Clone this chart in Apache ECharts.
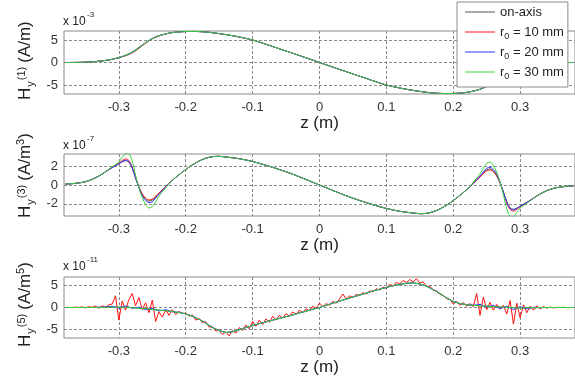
<!DOCTYPE html>
<html>
<head>
<meta charset="utf-8">
<script src="https://cdn.jsdelivr.net/npm/echarts@6/dist/echarts.min.js"></script>
<style>
  html, body { margin: 0; padding: 0; background: #fff; }
  #chart { width: 575px; height: 382px; }
</style>
</head>
<body>
<div id="chart"></div>
<script>
// z positions (m), 10 mm spacing
const zA = [
  -0.38, -0.37, -0.36, -0.35, -0.34, -0.33, -0.32, -0.31, -0.30, -0.29,
  -0.28, -0.27, -0.26, -0.25, -0.24, -0.23, -0.22, -0.21, -0.20, -0.19,
  -0.18, -0.17, -0.16, -0.15, -0.14, -0.13, -0.12, -0.11, -0.10, -0.09,
  -0.08, -0.07, -0.06, -0.05, -0.04, -0.03, -0.02, -0.01, 0, 0.01,
  0.02, 0.03, 0.04, 0.05, 0.06, 0.07, 0.08, 0.09, 0.10, 0.11,
  0.12, 0.13, 0.14, 0.15, 0.16, 0.17, 0.18, 0.19, 0.20, 0.21,
  0.22, 0.23, 0.24, 0.25, 0.26, 0.27, 0.28, 0.29, 0.30, 0.31,
  0.32, 0.33, 0.34, 0.35, 0.36, 0.37, 0.38
];

// H_y^(1), x 1e-3 A/m
const h1Axis = [
  0, 0.01, 0.03, 0.07, 0.15, 0.28, 0.45, 0.72, 1.1, 1.62,
  2.35, 3.35, 4.45, 5.35, 5.97, 6.36, 6.65, 6.8, 6.88, 6.9,
  6.87, 6.78, 6.62, 6.42, 6.2, 5.95, 5.67, 5.35, 5.0, 4.55,
  4.05, 3.55, 3.05, 2.55, 2.05, 1.55, 1.03, 0.52, 0, -0.52,
  -1.03, -1.55, -2.05, -2.55, -3.05, -3.55, -4.05, -4.55, -5.0, -5.35,
  -5.67, -5.95, -6.2, -6.42, -6.62, -6.78, -6.87, -6.9, -6.88, -6.8,
  -6.65, -6.36, -5.97, -5.35, -4.45, -3.35, -2.35, -1.62, -1.1, -0.72,
  -0.45, -0.28, -0.15, -0.07, -0.03, -0.01, 0
];
const h1R10 = [
  0, 0.01, 0.03, 0.07, 0.15, 0.28, 0.45, 0.7, 1.05, 1.5,
  2.15, 3.15, 4.3, 5.25, 5.9, 6.33, 6.64, 6.8, 6.88, 6.9,
  6.87, 6.78, 6.62, 6.42, 6.2, 5.95, 5.67, 5.35, 5.0, 4.55,
  4.05, 3.55, 3.05, 2.55, 2.05, 1.55, 1.03, 0.52, 0, -0.52,
  -1.03, -1.55, -2.05, -2.55, -3.05, -3.55, -4.05, -4.55, -5.0, -5.35,
  -5.67, -5.95, -6.2, -6.42, -6.62, -6.78, -6.87, -6.9, -6.88, -6.8,
  -6.64, -6.33, -5.9, -5.25, -4.3, -3.15, -2.15, -1.5, -1.05, -0.7,
  -0.45, -0.28, -0.15, -0.07, -0.03, -0.01, 0
];
const h1R20 = [
  0, 0.01, 0.03, 0.07, 0.15, 0.28, 0.45, 0.71, 1.08, 1.57,
  2.25, 3.25, 4.38, 5.3, 5.94, 6.35, 6.65, 6.8, 6.88, 6.9,
  6.87, 6.78, 6.62, 6.42, 6.2, 5.95, 5.67, 5.35, 5.0, 4.55,
  4.05, 3.55, 3.05, 2.55, 2.05, 1.55, 1.03, 0.52, 0, -0.52,
  -1.03, -1.55, -2.05, -2.55, -3.05, -3.55, -4.05, -4.55, -5.0, -5.35,
  -5.67, -5.95, -6.2, -6.42, -6.62, -6.78, -6.87, -6.9, -6.88, -6.8,
  -6.65, -6.35, -5.94, -5.3, -4.38, -3.25, -2.25, -1.57, -1.08, -0.71,
  -0.45, -0.28, -0.15, -0.07, -0.03, -0.01, 0
];
const h1R30 = [
  0, 0.01, 0.03, 0.07, 0.15, 0.28, 0.45, 0.72, 1.1, 1.6,
  2.3, 3.3, 4.4, 5.3, 5.95, 6.35, 6.65, 6.8, 6.88, 6.9,
  6.87, 6.78, 6.62, 6.42, 6.2, 5.95, 5.67, 5.35, 5.0, 4.55,
  4.05, 3.55, 3.05, 2.55, 2.05, 1.55, 1.03, 0.52, 0, -0.52,
  -1.03, -1.55, -2.05, -2.55, -3.05, -3.55, -4.05, -4.55, -5.0, -5.35,
  -5.67, -5.95, -6.2, -6.42, -6.62, -6.78, -6.87, -6.9, -6.88, -6.8,
  -6.65, -6.35, -5.95, -5.3, -4.4, -3.3, -2.3, -1.6, -1.1, -0.72,
  -0.45, -0.28, -0.15, -0.07, -0.03, -0.01, 0
];

// z positions for H_y^(3), denser round the end peaks
const z3 = [
  -0.38, -0.37, -0.36, -0.35, -0.34, -0.33, -0.32, -0.31,
  -0.30, -0.295, -0.29, -0.285, -0.28, -0.275, -0.27, -0.265, -0.26, -0.255, -0.25, -0.245, -0.24,
  -0.23, -0.22, -0.21, -0.20, -0.19, -0.18, -0.17, -0.16, -0.15, -0.14,
  -0.12, -0.10, -0.08, -0.06, -0.04, -0.02,
  0,
  0.02, 0.04, 0.06, 0.08, 0.10, 0.12,
  0.14, 0.15, 0.16, 0.17, 0.18, 0.19, 0.20, 0.21, 0.22, 0.23,
  0.24, 0.245, 0.25, 0.255, 0.26, 0.265, 0.27, 0.275, 0.28, 0.285, 0.29, 0.295, 0.30,
  0.31, 0.32, 0.33, 0.34, 0.35, 0.36, 0.37, 0.38
];

// H_y^(3), x 1e-7 A/m^3
const h3Axis = [
  0.1, 0.14, 0.22, 0.35, 0.6, 0.95, 1.4, 1.85,
  2.25, 2.45, 2.58, 2.42, 1.75, 0.75, -0.25, -1.0, -1.5, -1.72, -1.6, -1.3, -0.9,
  -0.2, 0.5, 1.1, 1.65, 2.15, 2.55, 2.85, 3.02, 3.05, 2.98,
  2.8, 2.5, 2.1, 1.65, 1.15, 0.58,
  0,
  -0.58, -1.15, -1.65, -2.1, -2.5, -2.8,
  -2.98, -3.05, -3.02, -2.85, -2.55, -2.15, -1.65, -1.1, -0.5, 0.2,
  0.9, 1.3, 1.6, 1.72, 1.5, 1.0, 0.25, -0.75, -1.75, -2.42, -2.58, -2.45, -2.25,
  -1.85, -1.4, -0.95, -0.6, -0.35, -0.22, -0.14, -0.1
];
const h3R10 = [
  0.1, 0.14, 0.22, 0.35, 0.6, 0.95, 1.4, 1.87,
  2.3, 2.6, 2.78, 2.6, 1.9, 0.8, -0.2, -0.95, -1.4, -1.6, -1.5, -1.2, -0.85,
  -0.2, 0.5, 1.1, 1.65, 2.15, 2.55, 2.85, 3.02, 3.05, 2.98,
  2.8, 2.5, 2.1, 1.65, 1.15, 0.58,
  0,
  -0.58, -1.15, -1.65, -2.1, -2.5, -2.8,
  -2.98, -3.05, -3.02, -2.85, -2.55, -2.15, -1.65, -1.1, -0.5, 0.2,
  0.85, 1.2, 1.5, 1.6, 1.4, 0.95, 0.2, -0.8, -1.9, -2.6, -2.78, -2.6, -2.3,
  -1.87, -1.4, -0.95, -0.6, -0.35, -0.22, -0.14, -0.1
];
const h3R20 = [
  0.1, 0.14, 0.22, 0.35, 0.6, 0.95, 1.4, 1.86,
  2.25, 2.5, 2.65, 2.5, 1.85, 0.75, -0.3, -1.15, -1.65, -1.88, -1.78, -1.4, -0.95,
  -0.2, 0.5, 1.1, 1.65, 2.15, 2.55, 2.85, 3.02, 3.05, 2.98,
  2.8, 2.5, 2.1, 1.65, 1.15, 0.58,
  0,
  -0.58, -1.15, -1.65, -2.1, -2.5, -2.8,
  -2.98, -3.05, -3.02, -2.85, -2.55, -2.15, -1.65, -1.1, -0.5, 0.2,
  0.95, 1.4, 1.78, 1.88, 1.65, 1.15, 0.3, -0.75, -1.85, -2.5, -2.65, -2.5, -2.25,
  -1.86, -1.4, -0.95, -0.6, -0.35, -0.22, -0.14, -0.1
];
const h3R30 = [
  0.1, 0.14, 0.22, 0.35, 0.6, 0.95, 1.42, 1.95,
  2.45, 2.95, 3.35, 3.3, 2.55, 1.05, -0.3, -1.35, -2.05, -2.45, -2.3, -1.8, -1.2,
  -0.3, 0.5, 1.1, 1.65, 2.15, 2.55, 2.85, 3.02, 3.05, 2.98,
  2.8, 2.5, 2.1, 1.65, 1.15, 0.58,
  0,
  -0.58, -1.15, -1.65, -2.1, -2.5, -2.8,
  -2.98, -3.05, -3.02, -2.85, -2.55, -2.15, -1.65, -1.1, -0.5, 0.3,
  1.2, 1.8, 2.3, 2.45, 2.05, 1.35, 0.3, -1.05, -2.55, -3.3, -3.35, -2.95, -2.45,
  -1.95, -1.42, -0.95, -0.6, -0.35, -0.22, -0.14, -0.1
];

// H_y^(5), x 1e-11 A/m^5
const h5Axis = [
  0, 0, 0, 0, 0, 0.02, 0.05, 0.08, 0.1, 0.05,
  0, -0.15, -0.3, -0.45, -0.6, -0.75, -0.95, -1.15, -1.45, -2.0,
  -2.7, -3.6, -4.6, -5.3, -5.75, -5.55, -5.1, -4.6, -4.15, -3.7,
  -3.3, -2.9, -2.5, -2.1, -1.7, -1.25, -0.85, -0.4, 0, 0.5,
  1.0, 1.45, 1.95, 2.4, 2.85, 3.3, 3.8, 4.2, 4.6, 5.0,
  5.3, 5.55, 5.65, 5.4, 4.9, 4.1, 3.2, 2.2, 1.4, 0.9,
  0.65, 0.5, 0.4, 0.3, 0.2, 0.1, 0, -0.05, -0.1, -0.08,
  -0.05, -0.02, 0, 0, 0, 0, 0
];
const h5R20 = [
  0, 0, 0, 0, 0, 0.05, 0.1, 0.3, -0.2, 0.4,
  -0.2, 0.1, -0.5, -0.2, -0.8, -0.5, -0.95, -1.15, -1.45, -2.0,
  -2.7, -3.6, -4.6, -5.3, -5.75, -5.55, -5.1, -4.6, -4.15, -3.7,
  -3.3, -2.9, -2.5, -2.1, -1.7, -1.25, -0.85, -0.4, 0, 0.5,
  1.0, 1.45, 1.95, 2.4, 2.85, 3.3, 3.8, 4.2, 4.6, 5.0,
  5.3, 5.55, 5.65, 5.4, 4.9, 4.1, 3.2, 2.2, 1.4, 0.9,
  0.65, 0.5, 0.7, 0.1, 0.5, -0.3, 0.3, -0.5, 0.2, -0.3,
  0.05, -0.02, 0, 0, 0, 0, 0
];
const h5R30 = [
  0, 0, 0, 0, 0, 0.02, 0.05, 0.1, 0.05, 0.1,
  -0.05, -0.15, -0.3, -0.45, -0.6, -0.75, -0.95, -1.15, -1.45, -2.0,
  -2.7, -3.6, -4.6, -5.3, -5.75, -5.55, -5.1, -4.6, -4.15, -3.7,
  -3.3, -2.9, -2.5, -2.1, -1.7, -1.25, -0.85, -0.4, 0, 0.5,
  1.0, 1.45, 1.95, 2.4, 2.85, 3.3, 3.8, 4.2, 4.6, 5.0,
  5.3, 5.55, 5.65, 5.4, 4.9, 4.1, 3.2, 2.2, 1.4, 0.9,
  0.65, 0.5, 0.4, 0.35, 0.2, 0.1, 0.05, -0.05, -0.1, -0.05,
  -0.05, -0.02, 0, 0, 0, 0, 0
];

// r0 = 10 mm trace is noisy, read at 5 mm steps
const zR = [
  -0.380, -0.375, -0.370, -0.365, -0.360, -0.355, -0.350, -0.345, -0.340, -0.335,
  -0.330, -0.325, -0.320, -0.315, -0.310, -0.305, -0.300, -0.295, -0.290, -0.285,
  -0.280, -0.275, -0.270, -0.265, -0.260, -0.255, -0.250, -0.245, -0.240, -0.235,
  -0.230, -0.225, -0.220, -0.215, -0.210, -0.205, -0.200, -0.195, -0.190, -0.185,
  -0.180, -0.175, -0.170, -0.165, -0.160, -0.155, -0.150, -0.145, -0.140, -0.135,
  -0.130, -0.125, -0.120, -0.115, -0.110, -0.105, -0.100, -0.095, -0.090, -0.085,
  -0.080, -0.075, -0.070, -0.065, -0.060, -0.055, -0.050, -0.045, -0.040, -0.035,
  -0.030, -0.025, -0.020, -0.015, -0.010, -0.005, 0.000, 0.005, 0.010, 0.015,
  0.020, 0.025, 0.030, 0.035, 0.040, 0.045, 0.050, 0.055, 0.060, 0.065,
  0.070, 0.075, 0.080, 0.085, 0.090, 0.095, 0.100, 0.105, 0.110, 0.115,
  0.120, 0.125, 0.130, 0.135, 0.140, 0.145, 0.150, 0.155, 0.160, 0.165,
  0.170, 0.175, 0.180, 0.185, 0.190, 0.195, 0.200, 0.205, 0.210, 0.215,
  0.220, 0.225, 0.230, 0.235, 0.240, 0.245, 0.250, 0.255, 0.260, 0.265,
  0.270, 0.275, 0.280, 0.285, 0.290, 0.295, 0.300, 0.305, 0.310, 0.315,
  0.320, 0.325, 0.330, 0.335, 0.340, 0.345, 0.350, 0.355, 0.360, 0.365,
  0.370, 0.375, 0.380
];
const h5R10 = [
  0.0, 0.05, -0.05, 0.1, 0.0, 0.15, -0.1, 0.2, 0.05, 0.35,
  -0.2, 0.4, 0.1, 0.6, 0.8, 2.7, -2.9, 1.5, -0.6, 1.8,
  3.2, 0.4, 2.3, -0.5, 1.1, -1.2, 1.7, -3.2, -1.0, -2.2,
  -0.6, -1.8, -0.5, -1.6, -0.9, -1.4, -1.3, -2.0, -1.7, -2.9,
  -2.5, -3.5, -3.3, -4.5, -4.4, -5.4, -5.2, -6.2, -5.6, -6.5,
  -5.3, -5.9, -4.6, -5.3, -4.0, -4.9, -3.2, -4.3, -2.9, -3.9,
  -2.6, -3.4, -2.0, -2.9, -1.8, -2.4, -1.4, -2.0, -1.0, -1.6,
  -0.6, -1.2, -0.3, -0.8, 0.3, -0.2, 1.0, 0.2, 0.9, 0.5,
  1.4, 1.0, 2.0, 3.1, 1.9, 2.7, 2.3, 3.0, 2.8, 3.4,
  3.1, 3.8, 3.6, 4.3, 4.0, 4.7, 4.4, 5.3, 4.9, 5.8,
  5.4, 6.2, 5.7, 6.4, 5.9, 6.6, 5.6, 5.9, 4.8, 4.9,
  3.9, 3.9, 3.0, 2.8, 2.0, 1.9, 0.8, 1.4, 0.5, 1.1,
  0.3, 0.9, 0.2, 3.2, -1.8, 2.4, -0.5, 1.2, -0.6, 0.7,
  -0.3, 0.5, -1.5, 1.6, -3.8, 1.0, -2.4, 0.6, -1.2, 0.3,
  -0.6, 0.4, -0.3, 0.2, -0.15, 0.1, -0.1, 0.05, 0.0, 0.05,
  -0.05, 0.0, 0.0
];

const names = ['on-axis', 'r0 = 10 mm', 'r0 = 20 mm', 'r0 = 30 mm'];
const colors = ['#555555', '#ff1010', '#3535ff', '#3ad03a'];
const zTicks = [-0.3, -0.2, -0.1, 0, 0.1, 0.2, 0.3];

const FONT = '"Liberation Sans", Arial, sans-serif';

const panels = [
  { top: 31, height: 63, lim: 7, ticks: [-5, 0, 5], nameGap: 10,
    lines: [[zA, h1Axis], [zA, h1R10], [zA, h1R20], [zA, h1R30]], smooth: true },
  { top: 154, height: 62, lim: 3.3, ticks: [-2, 0, 2], nameGap: 12,
    lines: [[z3, h3Axis], [z3, h3R10], [z3, h3R20], [z3, h3R30]], smooth: true },
  { top: 277, height: 61, lim: 7, ticks: [-5, 0, 5], nameGap: 16,
    lines: [[zA, h5Axis], [zR, h5R10], [zA, h5R20], [zA, h5R30]], smooth: false }
];

const measure = document.createElement('canvas').getContext('2d');
function textW(t, size) {
  measure.font = size + 'px ' + FONT;
  return measure.measureText(t).width;
}

// rotated y-axis title built from pieces: [text, fontSize, shift across, extra gap]
function vTitle(cx, y0, parts) {
  let p = 0;
  const children = parts.map(([t, size, dy, gap]) => {
    p += gap || 0;
    const el = {
      type: 'text', x: p, y: dy,
      style: { text: t, font: size + 'px ' + FONT, fill: '#222',
               verticalAlign: 'middle', textVerticalAlign: 'middle' }
    };
    p += textW(t, size);
    return el;
  });
  return { type: 'group', x: cx, y: y0, rotation: Math.PI / 2, children };
}

function expLabel(top, exp) {
  return [
    { type: 'text', left: 63, top: top, style: { text: 'x 10', font: '12px ' + FONT, fill: '#222' } },
    { type: 'text', left: 87, top: top - 5, style: { text: exp, font: '8px ' + FONT, fill: '#222' } }
  ];
}

const grid = [], xAxis = [], yAxis = [], series = [];
panels.forEach((p, i) => {
  grid.push({ left: 64, top: p.top, width: 513, height: p.height,
              show: true, borderColor: '#8a8a8a', borderWidth: 1 });
  xAxis.push({
    type: 'value', gridIndex: i, min: -0.382, max: 0.382,
    name: 'z (m)', nameLocation: 'middle', nameGap: p.nameGap,
    nameTextStyle: { fontSize: 17, color: '#222', fontFamily: FONT },
    axisLine: { show: false },
    axisTick: { show: false, customValues: zTicks },
    axisLabel: { customValues: zTicks, fontSize: 13, color: '#333', margin: 7, fontFamily: FONT },
    splitLine: { show: true, lineStyle: { color: '#8a8a8a', type: [3, 2], width: 1 } }
  });
  yAxis.push({
    type: 'value', gridIndex: i, min: -p.lim, max: p.lim,
    axisLine: { show: false },
    axisTick: { show: false, customValues: p.ticks },
    axisLabel: { customValues: p.ticks, fontSize: 13, color: '#333', margin: 6, fontFamily: FONT },
    splitLine: { show: true, lineStyle: { color: '#8a8a8a', type: [3, 2], width: 1 } }
  });
  p.lines.forEach(([zs, vs], k) => {
    series.push({
      name: names[k], type: 'line', xAxisIndex: i, yAxisIndex: i,
      data: zs.map((z, j) => [z, vs[j]]),
      symbol: 'none', showSymbol: false, smooth: p.smooth ? 0.3 : false,
      clip: true, silent: true,
      lineStyle: { color: colors[k], width: 1 },
      itemStyle: { color: colors[k] }
    });
  });
});

const graphic = [
  vTitle(25.5, 100, [['H', 17, 0], ['y', 11, 5, 1], ['(1)', 11, -4, 1], ['(A/m)', 17, 0, 4]]),
  vTitle(25.5, 218, [['H', 17, 0], ['y', 11, 5, 1], ['(3)', 11, -4, 1], ['(A/m', 17, 0, 4], ['3', 11, -5], [')', 17, 0]]),
  vTitle(25.5, 347, [['H', 17, 0], ['y', 11, 5, 1], ['(5)', 11, -4, 1], ['(A/m', 17, 0, 4], ['5', 11, -5], [')', 17, 0]]),
  ...expLabel(16, '-3'),
  ...expLabel(140, '-7'),
  ...expLabel(261, '-11')
];

const chart = echarts.init(document.getElementById('chart'));
chart.setOption({
  animation: false,
  backgroundColor: '#fff',
  textStyle: { fontFamily: FONT },
  grid, xAxis, yAxis, series, graphic,
  legend: {
    data: names.map((n, k) => ({ name: n, icon: 'rect', itemStyle: { color: colors[k] } })),
    orient: 'vertical', left: 457, top: 2,
    padding: [1, 4, 6, 8], itemGap: 2,
    itemWidth: 30, itemHeight: 1,
    backgroundColor: '#fff', borderColor: '#8a8a8a', borderWidth: 1, borderRadius: 0,
    selectedMode: false,
    formatter: n => n.replace('r0', 'r{s|0}'),
    textStyle: {
      fontSize: 13, color: '#222', lineHeight: 18, fontFamily: FONT,
      rich: { s: { fontSize: 9, lineHeight: 18, padding: [9, 0, 0, 0], fontFamily: FONT, color: '#222' } }
    }
  }
});
</script>
</body>
</html>
